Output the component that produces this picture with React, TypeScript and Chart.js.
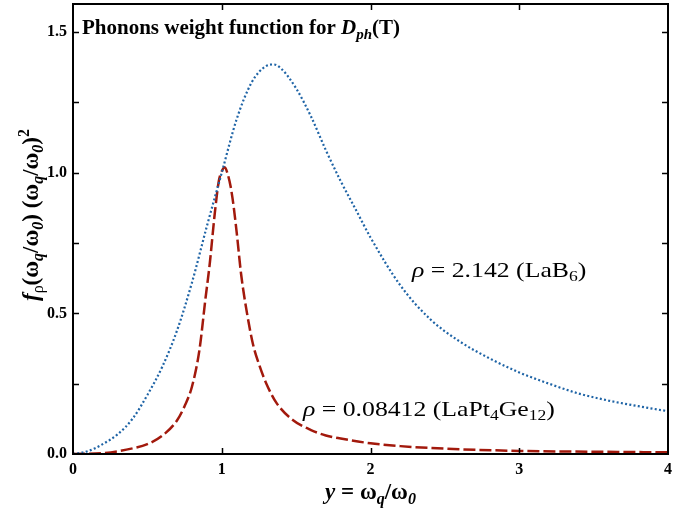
import React, { useEffect, useRef } from "react";
import { Chart, registerables } from "chart.js";

Chart.register(...registerables);

// ---- data ----
const blueX = [0, 0.1, 0.2, 0.3, 0.4, 0.5, 0.6, 0.7, 0.8, 0.9, 1.0, 1.1, 1.2, 1.3, 1.35, 1.4, 1.5, 1.6, 1.7, 1.8, 1.9, 2.0, 2.2, 2.4, 2.6, 2.8, 3.0, 3.2, 3.4, 3.6, 3.8, 4.0];
const blueY = [0, 0.01, 0.035, 0.07, 0.125, 0.21, 0.31, 0.44, 0.61, 0.81, 1.0, 1.19, 1.32, 1.38, 1.385, 1.37, 1.3, 1.2, 1.08, 0.97, 0.87, 0.77, 0.6, 0.48, 0.4, 0.34, 0.29, 0.25, 0.215, 0.19, 0.17, 0.152];

const redX = [0, 0.2, 0.4, 0.5, 0.6, 0.7, 0.75, 0.8, 0.85, 0.89, 0.92, 0.95, 0.98, 1.0, 1.02, 1.04, 1.06, 1.08, 1.1, 1.13, 1.17, 1.21, 1.25, 1.3, 1.37, 1.48, 1.6, 1.7, 1.8, 2.0, 2.2, 2.5, 3.0, 3.5, 4.0];
const redY = [0, 0.003, 0.02, 0.035, 0.065, 0.12, 0.17, 0.24, 0.37, 0.55, 0.68, 0.84, 0.97, 1.005, 1.02, 0.995, 0.95, 0.88, 0.79, 0.64, 0.5, 0.39, 0.32, 0.25, 0.18, 0.12, 0.085, 0.066, 0.055, 0.038, 0.028, 0.019, 0.011, 0.008, 0.006];

const xTicks = [0, 1, 2, 3, 4];
const yTicks = [0, 0.5, 1.0, 1.5];
const yMinorTicks = [0.25, 0.75, 1.25];

const blueLabel = "ρ = 2.142 (LaB₆)";
const redLabel = "ρ = 0.08412 (LaPt₄Ge₁₂)";

type Seg = { t: string; style?: string; weight?: string; size: number; dy?: number; family?: string };

const SERIF = "'Liberation Serif', 'Times New Roman', serif";

function segFont(s: Seg) {
  return `${s.style || "normal"} ${s.weight || "normal"} ${s.size}px ${s.family || SERIF}`;
}

function drawRich(ctx: CanvasRenderingContext2D, segs: Seg[], x: number, y: number, align: "left" | "center", sx = 1) {
  let total = 0;
  for (const s of segs) {
    ctx.font = segFont(s);
    total += ctx.measureText(s.t).width;
  }
  ctx.save();
  ctx.translate(x, y);
  ctx.scale(sx, 1);
  let cx = align === "center" ? -total / 2 : 0;
  ctx.textBaseline = "alphabetic";
  ctx.textAlign = "left";
  for (const s of segs) {
    ctx.font = segFont(s);
    ctx.fillText(s.t, cx, s.dy || 0);
    cx += ctx.measureText(s.t).width;
  }
  ctx.restore();
}

const decorPlugin = {
  id: "decor",
  afterDraw(chart: any) {
    const { ctx, chartArea, scales } = chart;
    const { left, right, top, bottom } = chartArea;
    const xs = scales.x;
    const ys = scales.y;
    ctx.save();
    ctx.strokeStyle = "#000";
    ctx.fillStyle = "#000";
    // frame
    ctx.lineWidth = 2;
    ctx.strokeRect(left, top, right - left, bottom - top);
    // ticks inward
    ctx.lineWidth = 1.5;
    const tl = 6;
    ctx.beginPath();
    for (const v of xTicks.slice(1, -1)) {
      const px = Math.round(xs.getPixelForValue(v)) + 0.5;
      ctx.moveTo(px, bottom);
      ctx.lineTo(px, bottom - tl);
      ctx.moveTo(px, top);
      ctx.lineTo(px, top + tl);
    }
    for (const v of [...yTicks.slice(1), ...yMinorTicks]) {
      const py = Math.round(ys.getPixelForValue(v)) + 0.5;
      ctx.moveTo(left, py);
      ctx.lineTo(left + tl, py);
      ctx.moveTo(right, py);
      ctx.lineTo(right - tl, py);
    }
    ctx.stroke();

    // title
    drawRich(ctx, [
      { t: "Phonons weight function for ", weight: "bold", size: 21 },
      { t: "D", weight: "bold", style: "italic", size: 21 },
      { t: "ph", weight: "bold", style: "italic", size: 15, dy: 5 },
      { t: "(T)", weight: "bold", size: 21 },
    ], left + 9, top + 30, "left");

    // annotations
    const annFont = 22;
    const sx = 1.17;
    drawRich(ctx, [
      { t: "ρ", style: "italic", size: annFont },
      { t: " = 2.142 (LaB", size: annFont },
      { t: "6", size: 15, dy: 4 },
      { t: ")", size: annFont },
    ], xs.getPixelForValue(2.279), ys.getPixelForValue(0.628), "left", sx);
    drawRich(ctx, [
      { t: "ρ", style: "italic", size: annFont },
      { t: " = 0.08412 (LaPt", size: annFont },
      { t: "4", size: 15, dy: 4 },
      { t: "Ge", size: annFont },
      { t: "12", size: 15, dy: 4 },
      { t: ")", size: annFont },
    ], xs.getPixelForValue(1.546), ys.getPixelForValue(0.135), "left", sx);

    // x axis title
    drawRich(ctx, [
      { t: "y", weight: "bold", style: "italic", size: 23 },
      { t: " = ω", weight: "bold", size: 23 },
      { t: "q", weight: "bold", style: "italic", size: 16, dy: 5 },
      { t: "/ω", weight: "bold", size: 23 },
      { t: "0", weight: "bold", style: "italic", size: 16, dy: 5 },
    ], (left + right) / 2, 499, "center");

    // y axis title (rotated)
    ctx.translate(38, 215);
    ctx.rotate(-Math.PI / 2);
    drawRich(ctx, [
      { t: "f", weight: "bold", style: "italic", size: 23 },
      { t: "ρ", size: 16, dy: 5 },
      { t: "(ω", weight: "bold", size: 23 },
      { t: "q", weight: "bold", style: "italic", size: 16, dy: 5 },
      { t: "/ω", weight: "bold", size: 23 },
      { t: "0", weight: "bold", style: "italic", size: 16, dy: 5 },
      { t: ") (ω", weight: "bold", size: 23 },
      { t: "q", weight: "bold", style: "italic", size: 16, dy: 5 },
      { t: "/ω", weight: "bold", size: 23 },
      { t: "0", weight: "bold", style: "italic", size: 16, dy: 5 },
      { t: ")", weight: "bold", size: 23 },
      { t: "2", weight: "bold", size: 16, dy: -9 },
    ], 0, 0, "center");
    ctx.restore();
  },
};

export default function App() {
  const ref = useRef<HTMLCanvasElement | null>(null);
  useEffect(() => {
    document.body.style.margin = "0";
    const canvas = ref.current!;
    const chart = new Chart(canvas, {
      type: "line",
      data: {
        datasets: [
          {
            label: blueLabel,
            data: blueX.map((x, i) => ({ x, y: blueY[i] })),
            borderColor: "#1f64a6",
            borderWidth: 2.2,
            borderDash: [2, 2.3],
            pointRadius: 0,
            cubicInterpolationMode: "monotone",
            fill: false,
          },
          {
            label: redLabel,
            data: redX.map((x, i) => ({ x, y: redY[i] })),
            borderColor: "#a2190c",
            borderWidth: 2.5,
            borderDash: [12, 4],
            pointRadius: 0,
            cubicInterpolationMode: "monotone",
            fill: false,
          },
        ],
      },
      options: {
        responsive: false,
        animation: false,
        layout: { padding: { left: 0, right: 28, top: 4, bottom: 0 } },
        plugins: { legend: { display: false }, tooltip: { enabled: false }, title: { display: false } },
        scales: {
          x: {
            type: "linear",
            min: 0,
            max: 4,
            grid: { display: false, drawTicks: false },
            border: { display: false },
            afterBuildTicks: (s: any) => { s.ticks = xTicks.map((v) => ({ value: v })); },
            afterFit: (s: any) => { s.height = 54; s.paddingLeft = 0; s.paddingRight = 0; },
            ticks: {
              padding: 6,
              color: "#000",
              font: { family: SERIF, weight: "bold", size: 16 },
              callback: (v: any) => String(v),
            },
          },
          y: {
            type: "linear",
            min: 0,
            max: 1.6,
            grid: { display: false, drawTicks: false },
            border: { display: false },
            afterBuildTicks: (s: any) => { s.ticks = yTicks.map((v) => ({ value: v })); },
            afterFit: (s: any) => { s.width = 73; s.paddingTop = 0; s.paddingBottom = 0; },
            ticks: {
              padding: 6,
              color: "#000",
              font: { family: SERIF, weight: "bold", size: 16 },
              callback: (v: any) => Number(v).toFixed(1),
            },
          },
        },
      },
      plugins: [decorPlugin],
    } as any);
    return () => chart.destroy();
  }, []);
  return (
    <div style={{ width: 696, height: 508, background: "#fff" }}>
      <canvas ref={ref} width={696} height={508} style={{ display: "block", width: 696, height: 508 }} />
    </div>
  );
}
